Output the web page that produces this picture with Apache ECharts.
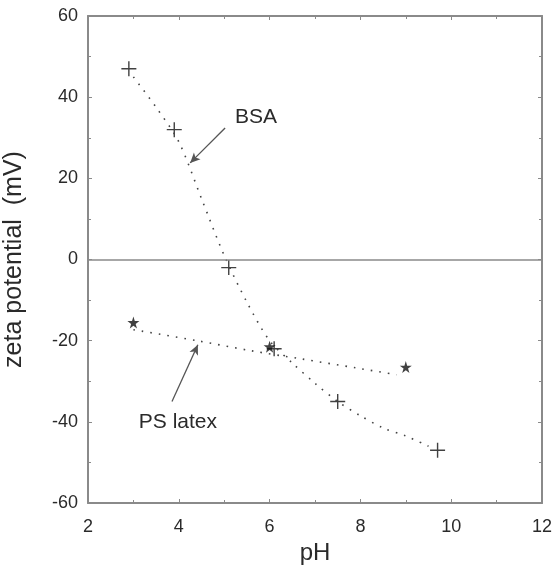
<!DOCTYPE html>
<html><head><meta charset="utf-8">
<script src="https://cdn.jsdelivr.net/npm/echarts@6/dist/echarts.min.js"></script>
<style>html,body{margin:0;padding:0;background:#fff}#c{width:560px;height:569px}</style>
</head><body><div id="c"></div>
<script>
// Measured data (symbols)
const bsaPH = [2.9, 3.9, 5.1, 6.1, 7.5, 9.7];
const bsaZeta = [47, 32, -2, -22, -35, -47];
const psPH = [3.0, 6.0, 9.0];
const psZeta = [-15.5, -21.5, -26.5];
// Dotted guide curves
const bsaFitPH = [3.0, 3.5, 4.0, 4.5, 5.0, 5.5, 6.0, 6.5, 7.0, 7.5, 8.0, 8.5, 9.0, 9.5];
const bsaFitZeta = [45, 37.5, 29, 15, 1, -10.5, -20, -25.5, -30.5, -35, -38.5, -41.5, -43.5, -46];
const psFitPH = [3.0, 4.4, 5.6, 6.7, 7.9, 8.8];
const psFitZeta = [-17.3, -20, -22.5, -24.5, -26.7, -28.4];
// Axis ticks
const xTicks = [2, 4, 6, 8, 10, 12];
const yTicks = [-60, -40, -20, 0, 20, 40, 60];
// Annotations
const bsaLabel = {text: 'BSA', at: [5.7, 35.1], from: [5.02, 32.4], to: [4.25, 23.8]};
const psLabel = {text: 'PS latex', at: [3.98, -40.2], from: [3.85, -35], to: [4.42, -21]};

const zip = (a, b) => a.map((v, i) => [v, b[i]]);
const FONT = "'Liberation Sans', Arial, sans-serif";
const AX = '#8a8a8a';
const TXT = '#2a2a2a';
const CROSS = 'path://M7,0L7,14M0,7L14,7';
const STAR = 'path://M50,0L61,35L98,35L68,57L79,91L50,70L21,91L32,57L2,35L39,35Z';

function axisCommon(showLabels) {
  return {
    axisLine: {show: true, onZero: false, lineStyle: {color: AX, width: 2}},
    axisTick: {show: true, inside: true, length: 4, lineStyle: {color: AX, width: 1}},
    minorTick: {show: true, splitNumber: 2, length: 3, lineStyle: {color: AX, width: 1}},
    splitLine: {show: false},
    axisLabel: {show: showLabels, color: TXT, fontSize: 18, fontFamily: FONT}
  };
}

const chart = echarts.init(document.getElementById('c'));
chart.setOption({
  animation: false,
  backgroundColor: '#fff',
  grid: {left: 88, right: 18, top: 16, bottom: 66, outerBoundsMode: 'none', containLabel: false},
  xAxis: [
    Object.assign({type: 'value', min: xTicks[0], max: xTicks[xTicks.length - 1], interval: 2, position: 'bottom',
      name: 'pH', nameLocation: 'middle', nameGap: 36,
      nameTextStyle: {color: TXT, fontSize: 24, fontFamily: FONT}}, axisCommon(true),
      {axisLabel: {show: true, color: TXT, fontSize: 18, fontFamily: FONT, margin: 15}}),
    Object.assign({type: 'value', min: 2, max: 12, interval: 2, position: 'top'}, axisCommon(false))
  ],
  yAxis: [
    Object.assign({type: 'value', min: yTicks[0], max: yTicks[yTicks.length - 1], interval: 20, position: 'left',
      name: 'zeta potential  (mV)', nameLocation: 'middle', nameGap: 61,
      nameTextStyle: {color: TXT, fontSize: 25, fontFamily: FONT}}, axisCommon(true),
      {axisLabel: {show: true, color: TXT, fontSize: 18, fontFamily: FONT, margin: 10}}),
    Object.assign({type: 'value', min: -60, max: 60, interval: 20, position: 'right'}, axisCommon(false))
  ],
  series: [
    {
      type: 'line', data: zip(bsaFitPH, bsaFitZeta), smooth: 0.3, showSymbol: false, silent: true,
      lineStyle: {color: '#444', width: 1.6, type: [1.6, 7]},
      markLine: {
        silent: true, symbol: 'none', label: {show: false},
        lineStyle: {color: AX, width: 1.5, type: 'solid'},
        data: [{yAxis: 0}]
      }
    },
    {
      type: 'line', data: zip(psFitPH, psFitZeta), smooth: 0.3, showSymbol: false, silent: true,
      lineStyle: {color: '#444', width: 1.6, type: [1.6, 7]}
    },
    {
      type: 'scatter', data: zip(bsaPH, bsaZeta), symbol: CROSS, symbolSize: 15,
      itemStyle: {color: 'rgba(0,0,0,0)', borderColor: '#111', borderWidth: 1.4},
      markPoint: {
        silent: true, symbol: 'circle', symbolSize: 0,
        label: {show: true, position: 'inside', color: TXT, fontSize: 21, fontFamily: FONT, formatter: p => p.name},
        data: [{name: bsaLabel.text, coord: bsaLabel.at}, {name: psLabel.text, coord: psLabel.at}]
      },
      markLine: {
        silent: true, symbol: ['none', 'arrow'], symbolSize: [7, 10], label: {show: false},
        lineStyle: {color: '#555', width: 1.3, type: 'solid'},
        data: [
          [{coord: bsaLabel.from}, {coord: bsaLabel.to}],
          [{coord: psLabel.from}, {coord: psLabel.to}]
        ]
      }
    },
    {
      type: 'scatter', data: zip(psPH, psZeta), symbol: STAR, symbolSize: 12,
      itemStyle: {color: '#111'}
    }
  ]
});
</script>
</body></html>
